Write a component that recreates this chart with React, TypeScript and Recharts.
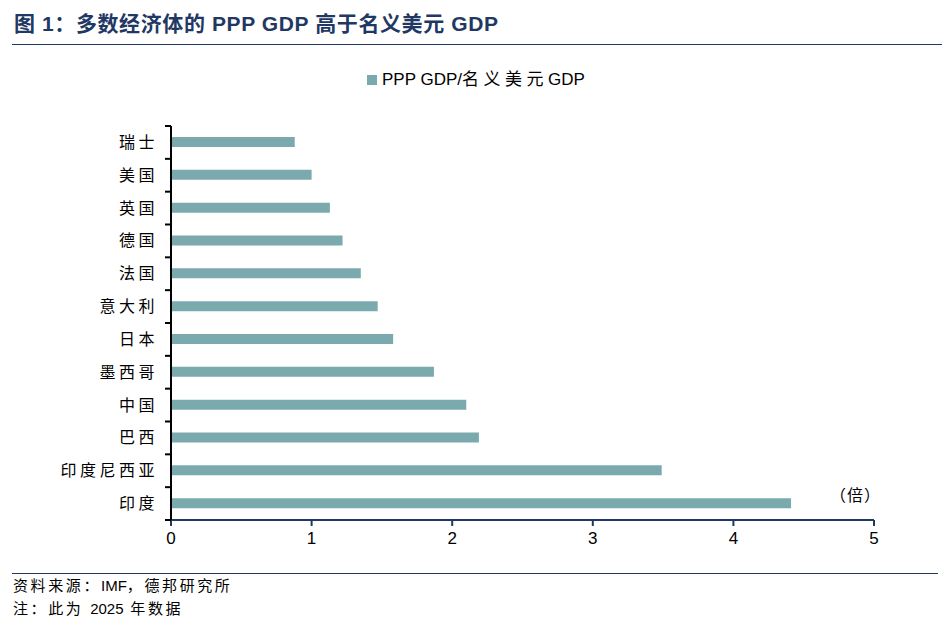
import React from 'react';
import { BarChart, Bar, XAxis, YAxis, Legend } from 'recharts';

// PPP GDP / 名义美元 GDP，2025 年
const countries = ['瑞士', '美国', '英国', '德国', '法国', '意大利', '日本', '墨西哥', '中国', '巴西', '印度尼西亚', '印度'];
const ratios = [0.88, 1.0, 1.13, 1.22, 1.35, 1.47, 1.58, 1.87, 2.1, 2.19, 3.49, 4.41];
const xTicks = [0, 1, 2, 3, 4, 5];

const data = countries.map((name, i) => ({ name, ratio: ratios[i] }));

const FONT = "'Liberation Sans', Arial, 'Noto Sans CJK SC', sans-serif";
const NAVY = '#1F3864';
const BAR = '#7AAAAE';

const W = 942;
const H = 628;
const PLOT_LEFT = 171;
const PLOT_TOP = 126;
const PLOT_BOTTOM = 520;
const PLOT_RIGHT = 874;
const band = (PLOT_BOTTOM - PLOT_TOP) / countries.length;

function CountryTick(props: any) {
  const { y, payload, index } = props;
  const last = index === countries.length - 1;
  return (
    <g>
      <line x1={PLOT_LEFT - 6} x2={PLOT_LEFT} y1={y - band / 2} y2={y - band / 2} stroke="#000" strokeWidth={2} />
      {last && (
        <line x1={PLOT_LEFT - 6} x2={PLOT_LEFT} y1={y + band / 2} y2={y + band / 2} stroke="#000" strokeWidth={2} />
      )}
      <text
        x={PLOT_LEFT - 13}
        y={y}
        textAnchor="end"
        dominantBaseline="central"
        fontSize={16}
        letterSpacing={3.5}
        fill="#000"
        fontFamily={FONT}
      >
        {payload.value}
      </text>
    </g>
  );
}

function LegendContent() {
  return (
    <div style={{ display: 'flex', alignItems: 'center', fontFamily: FONT, fontSize: 17, color: '#000', whiteSpace: 'nowrap' }}>
      <span style={{ width: 10, height: 10, background: BAR, marginRight: 5, display: 'inline-block' }} />
      <span>PPP GDP/</span>
      <span style={{ letterSpacing: 4.5 }}>名义美元</span>
      <span>GDP</span>
    </div>
  );
}

const cjk = { letterSpacing: 2.6 };

export default function App() {
  return (
    <div style={{ position: 'absolute', left: 0, top: 0, width: W, height: H, background: '#fff', fontFamily: FONT }}>
      <div style={{ position: 'absolute', left: 14, top: 7, fontSize: 21, letterSpacing: 0.6, fontWeight: 'bold', color: NAVY, whiteSpace: 'nowrap' }}>
        图 1：多数经济体的 PPP GDP 高于名义美元 GDP
      </div>
      <div style={{ position: 'absolute', left: 12, right: 0, top: 44, borderTop: `1.5px solid ${NAVY}` }} />

      <BarChart
        width={W}
        height={H}
        data={data}
        layout="vertical"
        margin={{ top: PLOT_TOP - 24, right: W - PLOT_RIGHT, bottom: H - PLOT_BOTTOM - 30, left: 21 }}
      >
        <Legend
          verticalAlign="top"
          align="left"
          content={<LegendContent />}
          wrapperStyle={{ top: 68, left: 367, width: 'auto', height: 24, lineHeight: '24px' }}
        />
        <XAxis
          type="number"
          domain={[0, 5]}
          ticks={xTicks}
          height={30}
          axisLine={{ stroke: NAVY, strokeWidth: 2 }}
          tickLine={{ stroke: NAVY, strokeWidth: 2 }}
          tickSize={6}
          tickMargin={6}
          tick={{ fill: '#000', fontSize: 17, fontFamily: FONT }}
        />
        <YAxis
          type="category"
          dataKey="name"
          width={150}
          interval={0}
          axisLine={{ stroke: '#000', strokeWidth: 2 }}
          tickLine={false}
          tick={<CountryTick />}
        />
        <Bar dataKey="ratio" fill={BAR} barSize={10} isAnimationActive={false} />
      </BarChart>

      <div style={{ position: 'absolute', left: 830, top: 482, fontSize: 16, letterSpacing: 1, color: '#000', fontFamily: FONT }}>（倍）</div>

      <div style={{ position: 'absolute', left: 12, width: 926, top: 573, borderTop: `1px solid ${NAVY}` }} />
      <div style={{ position: 'absolute', left: 13, top: 576, fontSize: 15, lineHeight: '20px', color: '#000', whiteSpace: 'nowrap' }}>
        <span style={cjk}>资料来源：</span>IMF<span style={cjk}>，德邦研究所</span>
      </div>
      <div style={{ position: 'absolute', left: 13, top: 599, fontSize: 15, lineHeight: '20px', color: '#000', whiteSpace: 'nowrap' }}>
        <span style={cjk}>注：此为 </span>2025<span style={cjk}> 年数据</span>
      </div>
    </div>
  );
}
